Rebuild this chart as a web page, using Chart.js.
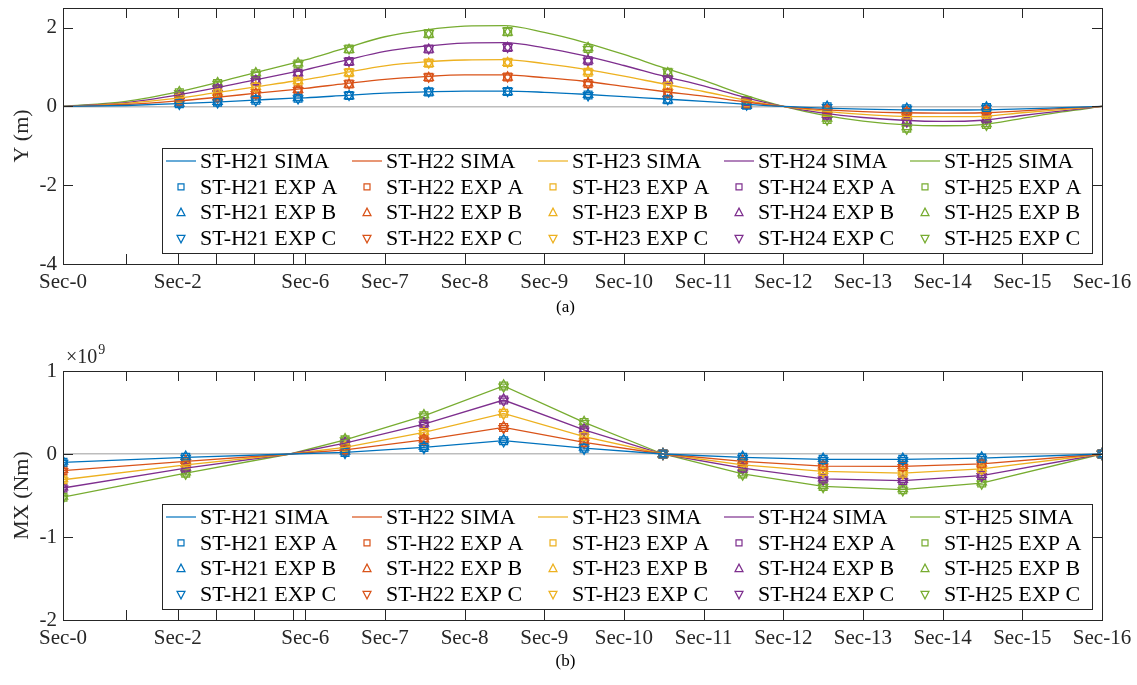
<!DOCTYPE html>
<html>
<head>
<meta charset="utf-8">
<script src="https://cdn.jsdelivr.net/npm/chart.js@4.4.1/dist/chart.umd.min.js"></script>
<style>
  body { margin: 0; background: #fff; }
  canvas { display: block; }
</style>
</head>
<body>
<canvas id="chartY" width="1137" height="330"></canvas>
<canvas id="chartMX" width="1137" height="355"></canvas>
<script>
var serif = "'Liberation Serif', 'DejaVu Serif', serif";
var ink = '#262626';

// sections along the structure (x position of every section, in plot units)
var secNames = ['Sec-0','Sec-1','Sec-2','Sec-3','Sec-4','Sec-5','Sec-6','Sec-7','Sec-8',
                'Sec-9','Sec-10','Sec-11','Sec-12','Sec-13','Sec-14','Sec-15','Sec-16'];
var secX = [0, 0.79, 1.44, 1.92, 2.40, 2.89, 3.04, 4.04, 5.04, 6.04, 7.04, 8.04, 9.04, 10.04, 11.04, 12.04, 13.04];
var shownLabels = ['Sec-0','Sec-2','Sec-6','Sec-7','Sec-8','Sec-9','Sec-10','Sec-11',
                   'Sec-12','Sec-13','Sec-14','Sec-15','Sec-16'];

var caseNames = ['ST-H21','ST-H22','ST-H23','ST-H24','ST-H25'];
var caseColors = ['#0072BD','#D95319','#EDB120','#7E2F8E','#77AC30'];

// (a) Y (m)
var ySimaX = [0, 0.79, 1.44, 1.92, 2.40, 2.89, 3.04, 3.54, 4.04, 4.54, 5.04, 5.54, 6.04, 6.54,
              7.04, 7.54, 8.04, 8.54, 9.04, 9.54, 10.04, 10.54, 11.04, 11.54, 12.04, 12.54, 13.04];
var ySimaH21 = [0, 0.025, 0.07, 0.11, 0.16, 0.21, 0.22, 0.28, 0.34, 0.37, 0.39, 0.39, 0.36, 0.31,
                0.25, 0.19, 0.13, 0.06, 0, -0.04, -0.07, -0.085, -0.09, -0.085, -0.06, -0.03, 0];
var ySimaH22 = [0, 0.05, 0.14, 0.23, 0.33, 0.43, 0.46, 0.58, 0.69, 0.76, 0.80, 0.80, 0.73, 0.64,
                0.51, 0.38, 0.26, 0.12, 0, -0.08, -0.13, -0.16, -0.17, -0.16, -0.11, -0.05, 0];
var ySimaH23 = [0, 0.08, 0.21, 0.35, 0.49, 0.64, 0.68, 0.86, 1.03, 1.13, 1.18, 1.19, 1.09, 0.95,
                0.77, 0.57, 0.38, 0.17, 0, -0.12, -0.20, -0.25, -0.26, -0.25, -0.16, -0.08, 0];
var ySimaH24 = [0, 0.10, 0.29, 0.47, 0.67, 0.87, 0.93, 1.17, 1.40, 1.53, 1.61, 1.62, 1.49, 1.29,
                1.04, 0.77, 0.52, 0.24, 0, -0.17, -0.28, -0.35, -0.38, -0.35, -0.23, -0.11, 0];
var ySimaH25 = [0, 0.13, 0.37, 0.60, 0.85, 1.10, 1.18, 1.48, 1.77, 1.94, 2.04, 2.05, 1.88, 1.63,
                1.32, 0.98, 0.66, 0.30, 0, -0.22, -0.37, -0.46, -0.49, -0.46, -0.30, -0.14, 0];

var yExpX = [1.46, 1.94, 2.42, 2.95, 3.59, 4.59, 5.58, 6.59, 7.59, 8.58, 9.59, 10.59, 11.59];
var yExpA = [
  [0.07, 0.11, 0.16, 0.21, 0.28, 0.37, 0.38, 0.29, 0.17, 0.03, -0.01, -0.06, -0.03],
  [0.14, 0.23, 0.32, 0.42, 0.57, 0.74, 0.75, 0.58, 0.34, 0.06, -0.09, -0.15, -0.12],
  [0.21, 0.34, 0.49, 0.64, 0.86, 1.10, 1.12, 0.87, 0.51, 0.09, -0.15, -0.25, -0.20],
  [0.27, 0.45, 0.65, 0.84, 1.14, 1.46, 1.50, 1.16, 0.68, 0.12, -0.22, -0.38, -0.32],
  [0.35, 0.58, 0.83, 1.08, 1.46, 1.85, 1.90, 1.47, 0.87, 0.15, -0.33, -0.55, -0.46]
];
var yExpB = [
  [0.08, 0.12, 0.17, 0.22, 0.27, 0.36, 0.37, 0.30, 0.16, 0.02, 0.00, -0.05, -0.02],
  [0.15, 0.24, 0.33, 0.43, 0.56, 0.73, 0.74, 0.59, 0.33, 0.05, -0.08, -0.14, -0.11],
  [0.22, 0.35, 0.50, 0.65, 0.85, 1.09, 1.11, 0.88, 0.50, 0.08, -0.14, -0.24, -0.19],
  [0.28, 0.46, 0.66, 0.85, 1.13, 1.45, 1.49, 1.17, 0.67, 0.11, -0.21, -0.37, -0.31],
  [0.37, 0.60, 0.85, 1.10, 1.44, 1.83, 1.88, 1.49, 0.85, 0.13, -0.30, -0.52, -0.44]
];
var yExpC = [
  [0.06, 0.10, 0.15, 0.20, 0.29, 0.38, 0.39, 0.28, 0.18, 0.04, -0.02, -0.07, -0.04],
  [0.13, 0.22, 0.31, 0.41, 0.58, 0.75, 0.76, 0.57, 0.35, 0.07, -0.10, -0.16, -0.13],
  [0.20, 0.33, 0.48, 0.63, 0.87, 1.11, 1.13, 0.86, 0.52, 0.10, -0.16, -0.26, -0.21],
  [0.26, 0.44, 0.64, 0.83, 1.15, 1.47, 1.51, 1.15, 0.69, 0.13, -0.23, -0.39, -0.33],
  [0.33, 0.57, 0.81, 1.06, 1.47, 1.86, 1.92, 1.45, 0.88, 0.16, -0.34, -0.57, -0.47]
];
var yTicks = [-4, -2, 0, 2];

// (b) MX (Nm), values in 1e9 Nm
var mxSimaX = [0, 1.54, 2.85, 3.54, 4.53, 5.53, 6.54, 7.53, 8.53, 9.54, 10.54, 11.53, 13.04];
var mxSimaH21 = [-0.10, -0.04, 0, 0.02, 0.08, 0.16, 0.07, 0, -0.04, -0.065, -0.065, -0.05, 0];
var mxSimaH22 = [-0.20, -0.09, 0, 0.05, 0.17, 0.32, 0.14, 0, -0.09, -0.145, -0.15, -0.12, 0];
var mxSimaH23 = [-0.31, -0.13, 0, 0.08, 0.26, 0.49, 0.21, 0, -0.13, -0.21, -0.23, -0.18, 0];
var mxSimaH24 = [-0.41, -0.17, 0, 0.13, 0.36, 0.65, 0.29, 0, -0.17, -0.30, -0.32, -0.26, 0];
var mxSimaH25 = [-0.52, -0.23, 0, 0.17, 0.46, 0.82, 0.38, 0, -0.24, -0.39, -0.43, -0.35, 0];

var mxExpX = [0, 1.54, 3.54, 4.53, 5.53, 6.54, 7.53, 8.53, 9.54, 10.54, 11.53, 13.04];
var mxExpA = [
  [-0.10, -0.04, 0.02, 0.08, 0.16, 0.07, 0, -0.04, -0.065, -0.065, -0.05, 0],
  [-0.20, -0.09, 0.05, 0.17, 0.32, 0.14, 0, -0.09, -0.145, -0.15, -0.12, 0],
  [-0.31, -0.13, 0.08, 0.26, 0.49, 0.21, 0, -0.13, -0.21, -0.23, -0.18, 0],
  [-0.41, -0.17, 0.13, 0.36, 0.65, 0.29, 0, -0.17, -0.30, -0.32, -0.26, 0],
  [-0.52, -0.23, 0.17, 0.46, 0.82, 0.38, 0, -0.24, -0.39, -0.43, -0.35, 0]
];
var mxExpB = [
  [-0.09, -0.03, 0.03, 0.09, 0.17, 0.08, 0, -0.03, -0.055, -0.055, -0.04, 0],
  [-0.19, -0.08, 0.06, 0.18, 0.33, 0.15, 0, -0.08, -0.135, -0.14, -0.11, 0],
  [-0.30, -0.12, 0.09, 0.27, 0.50, 0.22, 0, -0.12, -0.20, -0.22, -0.17, 0],
  [-0.40, -0.16, 0.14, 0.37, 0.66, 0.30, 0, -0.16, -0.29, -0.31, -0.25, 0],
  [-0.51, -0.22, 0.18, 0.47, 0.83, 0.39, 0, -0.23, -0.38, -0.42, -0.34, 0]
];
var mxExpC = [
  [-0.11, -0.05, 0.01, 0.07, 0.15, 0.06, 0, -0.05, -0.075, -0.075, -0.06, 0],
  [-0.21, -0.10, 0.04, 0.16, 0.31, 0.13, 0, -0.10, -0.155, -0.16, -0.13, 0],
  [-0.32, -0.14, 0.07, 0.25, 0.48, 0.20, 0, -0.14, -0.22, -0.24, -0.19, 0],
  [-0.42, -0.18, 0.12, 0.35, 0.64, 0.28, 0, -0.18, -0.31, -0.33, -0.27, 0],
  [-0.53, -0.24, 0.16, 0.45, 0.81, 0.37, 0, -0.25, -0.40, -0.44, -0.36, 0]
];
var mxTicks = [-2, -1, 0, 1];


function toPoints(xs, vals) {
  return vals.map(function(v, k) { return {x: xs[k], y: v}; });
}

function buildDatasets(lineX, lines, expX, expA, expB, expC, smooth) {
  var sets = [];
  lines.forEach(function(vals, i) {
    sets.push({
      label: caseNames[i] + ' SIMA',
      data: toPoints(lineX, vals),
      showLine: true,
      borderColor: caseColors[i],
      borderWidth: 1.3,
      pointRadius: 0,
      tension: 0,
      cubicInterpolationMode: smooth ? 'monotone' : 'default',
      fill: false
    });
  });
  var kinds = [['A', expA, 'rect', 0], ['B', expB, 'triangle', 0], ['C', expC, 'triangle', 180]];
  kinds.forEach(function(k) {
    k[1].forEach(function(vals, i) {
      sets.push({
        label: caseNames[i] + ' EXP ' + k[0],
        data: toPoints(expX, vals),
        showLine: false,
        borderColor: caseColors[i],
        backgroundColor: 'rgba(0,0,0,0)',
        pointStyle: k[2],
        pointRotation: k[3],
        pointRadius: k[2] == 'rect' ? 5.5 : 5.4,
        pointBorderWidth: 1.3
      });
    });
  });
  return sets;
}

// box, inward ticks, caption and exponent, like a matlab axes
var axesBox = {
  id: 'axesBox',
  afterDraw: function(chart, args, opts) {
    var ctx = chart.ctx, a = chart.chartArea;
    var xs = chart.scales.x, ys = chart.scales.y;
    ctx.save();
    ctx.strokeStyle = ink;
    ctx.lineWidth = 1;
    ctx.beginPath();
    xs.ticks.forEach(function(t) {
      var px = Math.round(xs.getPixelForValue(t.value)) + 0.5;
      ctx.moveTo(px, a.bottom); ctx.lineTo(px, a.bottom - 10);
      ctx.moveTo(px, a.top); ctx.lineTo(px, a.top + 10);
    });
    ys.ticks.forEach(function(t) {
      var py = Math.round(ys.getPixelForValue(t.value)) + 0.5;
      ctx.moveTo(a.left, py); ctx.lineTo(a.left + 10, py);
      ctx.moveTo(a.right, py); ctx.lineTo(a.right - 10, py);
    });
    ctx.stroke();
    ctx.strokeRect(Math.round(a.left) + 0.5, Math.round(a.top) + 0.5,
                   Math.round(a.right - a.left), Math.round(a.bottom - a.top));

    ctx.fillStyle = '#000';
    ctx.font = '17px ' + serif;
    ctx.textAlign = 'center';
    ctx.textBaseline = 'middle';
    ctx.fillText(opts.caption, chart.width / 2 - 3, chart.height - opts.captionGap);

    if (opts.exponent) {
      ctx.fillStyle = ink;
      ctx.textAlign = 'left';
      ctx.textBaseline = 'alphabetic';
      ctx.font = '20px ' + serif;
      ctx.fillText('\u00d710', a.left + 3, a.top - 8);
      var w = ctx.measureText('\u00d710').width;
      ctx.font = '14px ' + serif;
      ctx.fillText(opts.exponent, a.left + 4 + w, a.top - 17);
    }
    ctx.restore();
  }
};

// legend inside the axes, 5 columns x 4 rows
var boxLegend = {
  id: 'boxLegend',
  afterDraw: function(chart) {
    var ctx = chart.ctx, a = chart.chartArea;
    var left = 162, width = 930, height = 105;
    var top = Math.round(a.bottom) - 11 - height;
    ctx.save();
    ctx.fillStyle = '#fff';
    ctx.fillRect(left, top, width, height);
    ctx.strokeStyle = ink;
    ctx.lineWidth = 1;
    ctx.strokeRect(left + 0.5, top + 0.5, width, height);
    ctx.font = '22px ' + serif;
    ctx.textBaseline = 'middle';
    ctx.textAlign = 'left';
    chart.data.datasets.forEach(function(ds, i) {
      var col = i % 5, row = Math.floor(i / 5);
      var cx = left + 4 + col * 186;
      var cy = top + 13 + row * 25.8;
      ctx.strokeStyle = ds.borderColor;
      ctx.lineWidth = 1.2;
      ctx.beginPath();
      if (ds.showLine) {
        ctx.moveTo(cx, cy); ctx.lineTo(cx + 30, cy);
      } else if (ds.pointStyle == 'rect') {
        ctx.rect(cx + 12, cy - 3, 6, 6);
      } else {
        var d = ds.pointRotation ? -1 : 1;
        ctx.moveTo(cx + 15, cy - 4.5 * d);
        ctx.lineTo(cx + 19, cy + 3 * d);
        ctx.lineTo(cx + 11, cy + 3 * d);
        ctx.closePath();
      }
      ctx.stroke();
      ctx.fillStyle = '#000';
      ctx.fillText(ds.label, cx + 34, cy + 1);
    });
    ctx.restore();
  }
};

function makeChart(id, datasets, yMin, yMax, ticks, yTitle, caption, exponent, padTop, xHeight) {
  return new Chart(document.getElementById(id), {
    type: 'scatter',
    data: { datasets: datasets },
    options: {
      responsive: false,
      animation: false,
      devicePixelRatio: 1,
      events: [],
      layout: { padding: { left: 0, right: 35, top: padTop, bottom: 0 } },
      plugins: {
        legend: { display: false },
        tooltip: { enabled: false },
        axesBox: { caption: caption, captionGap: xHeight == 66 ? 22 : 23, exponent: exponent }
      },
      scales: {
        x: {
          type: 'linear',
          min: 0,
          max: secX[secX.length - 1],
          afterBuildTicks: function(s) {
            s.ticks = secX.map(function(v) { return {value: v}; });
          },
          afterFit: function(s) {
            s.height = xHeight;
            s.paddingLeft = 0; s.paddingRight = 0;
          },
          grid: { display: false, drawTicks: false },
          border: { display: false },
          ticks: {
            autoSkip: false,
            maxRotation: 0,
            padding: 6,
            color: ink,
            font: { family: serif, size: 21 },
            callback: function(v, i) {
              var n = secNames[i];
              return shownLabels.indexOf(n) >= 0 ? n : '';
            }
          }
        },
        y: {
          min: yMin,
          max: yMax,
          afterBuildTicks: function(s) {
            s.ticks = ticks.map(function(v) { return {value: v}; });
          },
          afterFit: function(s) {
            s.width = 63;
            s.paddingTop = 0; s.paddingBottom = 0;
          },
          grid: {
            drawTicks: false,
            lineWidth: 1.5,
            color: function(c) { return c.tick && c.tick.value === 0 ? '#bdbdbd' : 'rgba(0,0,0,0)'; }
          },
          border: { display: false },
          ticks: {
            padding: 6,
            color: ink,
            font: { family: serif, size: 21 },
            callback: function(v) { return String(v); }
          },
          title: {
            display: true,
            text: yTitle,
            color: ink,
            font: { family: serif, size: 22 },
            padding: { top: 9, bottom: 0 }
          }
        }
      }
    },
    plugins: [axesBox, boxLegend]
  });
}

makeChart('chartY',
  buildDatasets(ySimaX, [ySimaH21, ySimaH22, ySimaH23, ySimaH24, ySimaH25], yExpX, yExpA, yExpB, yExpC, true),
  -4, 2.5, yTicks, 'Y (m)', '(a)', null, 8, 66);

makeChart('chartMX',
  buildDatasets(mxSimaX, [mxSimaH21, mxSimaH22, mxSimaH23, mxSimaH24, mxSimaH25], mxExpX, mxExpA, mxExpB, mxExpC, false),
  -2, 1, mxTicks, 'MX (Nm)', '(b)', '9', 41, 65);
</script>
</body>
</html>
